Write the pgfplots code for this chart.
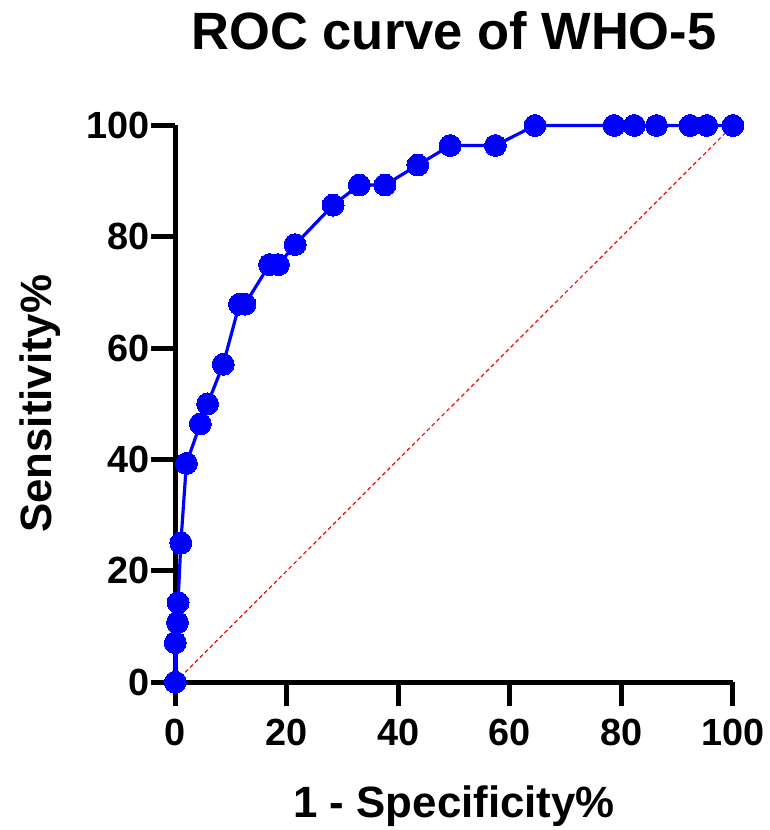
\documentclass[border=0pt]{standalone}
\usepackage{fontspec}
\setmainfont{Liberation Sans}
\usepackage{pgfplots}
\pgfplotsset{compat=1.18}
\definecolor{rocblue}{RGB}{0,0,255}
\begin{document}
\begin{tikzpicture}
\begin{axis}[
  scale only axis, width=560pt, height=559pt,
  xmin=0, xmax=100, ymin=0, ymax=100,
  axis x line*=bottom, axis y line*=left,
  axis line style={line width=5pt, black},
  xtick={0,20,40,60,80,100}, ytick={0,20,40,60,80,100},
  tick align=outside, major tick length=24pt,
  every tick/.style={black, line width=5pt},
  /pgf/number format/assume math mode=true,
  tick label style={font=\fontsize{38}{40}\selectfont\bfseries, inner sep=2pt},
  xticklabel style={anchor=base, yshift=-40pt},
  yticklabel style={anchor=east},
  clip=false,
  title={ROC curve of WHO-5},
  title style={at={(0.5,1.1252)}, anchor=base, font=\fontsize{52.7}{60}\selectfont\bfseries},
  xlabel={1 - Specificity\%},
  xlabel style={at={(0.5,-0.2433)}, anchor=base, font=\fontsize{44}{50}\selectfont\bfseries},
  ylabel={Sensitivity\%},
  ylabel style={at={(-0.2214,0.5)}, anchor=base, rotate=0, font=\fontsize{44}{50}\selectfont\bfseries},
]
\addplot[red, line width=1.2pt, dash pattern=on 4pt off 3pt] coordinates {(0,0) (100,100)};
\addplot[rocblue, line width=3.2pt, mark=*, mark size=11pt, mark options={fill=rocblue, draw=rocblue, line width=0pt}] coordinates {
(0,0) (0,7.1) (0.4,10.7) (0.5,14.3) (1,25) (2,39.3) (4.5,46.4) (5.8,50)
(8.6,57.1) (11.5,67.9) (12.5,67.9) (16.9,75) (18.5,75) (21.5,78.6)
(28.3,85.7) (33,89.3) (37.6,89.3) (43.5,92.9) (49.3,96.4) (57.4,96.4)
(64.5,100) (78.7,100) (82.3,100) (86.3,100) (92.3,100) (95.3,100) (100,100)};
\end{axis}
\path[use as bounding box] (-176pt,-145pt) rectangle (597pt,685pt);
\end{tikzpicture}
\end{document}
